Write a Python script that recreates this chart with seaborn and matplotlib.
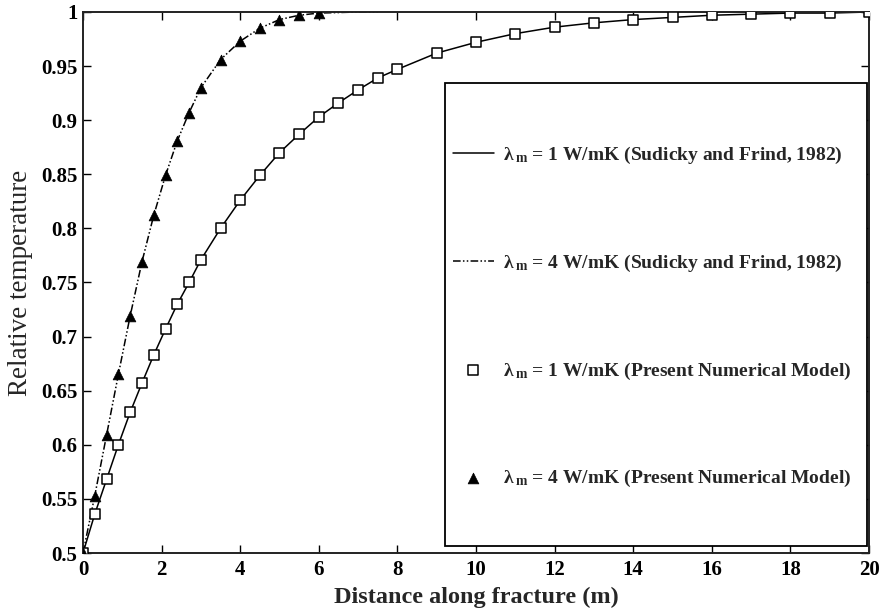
import matplotlib
matplotlib.use("Agg")
import matplotlib.pyplot as plt
import matplotlib.ticker as mticker
from matplotlib.patches import Rectangle
import seaborn as sns

# Present numerical model, lambda_m = 1 W/mK (squares)
x_num1 = [0, 0.3, 0.6, 0.9, 1.2, 1.5, 1.8, 2.1, 2.4, 2.7, 3.0, 3.5, 4.0, 4.5, 5.0,
          5.5, 6.0, 6.5, 7.0, 7.5, 8.0, 9, 10, 11, 12, 13, 14, 15, 16, 17, 18, 19, 20]
y_num1 = [0.5, 0.536, 0.568, 0.600, 0.630, 0.657, 0.683, 0.707, 0.730, 0.750, 0.771,
          0.800, 0.826, 0.849, 0.870, 0.887, 0.903, 0.916, 0.928, 0.939, 0.947,
          0.962, 0.972, 0.980, 0.986, 0.990, 0.993, 0.995, 0.997, 0.998, 0.999, 0.999, 1.0]

# Present numerical model, lambda_m = 4 W/mK (triangles)
x_num4 = [0, 0.3, 0.6, 0.9, 1.2, 1.5, 1.8, 2.1, 2.4, 2.7, 3.0, 3.5, 4.0, 4.5, 5.0, 5.5, 6.0]
y_num4 = [0.5, 0.553, 0.609, 0.665, 0.719, 0.769, 0.812, 0.849, 0.881, 0.907, 0.930,
          0.956, 0.973, 0.985, 0.993, 0.997, 0.999]

# Analytical solution (Sudicky and Frind, 1982)
x_ana1 = x_num1
y_ana1 = y_num1
x_ana4 = x_num4 + [6.5, 7.0, 7.5]
y_ana4 = y_num4 + [0.9995, 1.0, 1.0]

labels = [
    "λ$_{\\,m}$ = 1 W/mK (Sudicky and Frind, 1982)",
    "λ$_{\\,m}$ = 4 W/mK (Sudicky and Frind, 1982)",
    "λ$_{\\,m}$ = 1 W/mK (Present Numerical Model)",
    "λ$_{\\,m}$ = 4 W/mK (Present Numerical Model)",
]

sns.set_style("ticks")
plt.rcParams["font.family"] = ["Liberation Serif", "DejaVu Serif"]
plt.rcParams["font.weight"] = "bold"
plt.rcParams["mathtext.default"] = "regular"

fig = plt.figure(figsize=(8.81, 6.12), dpi=100)
ax = fig.add_axes([0.0942, 0.0964, 0.8922, 0.8840])

sns.lineplot(x=x_ana1, y=y_ana1, ax=ax, color="black", linewidth=1.1,
             label=labels[0], sort=False)
sns.lineplot(x=x_ana4, y=y_ana4, ax=ax, color="black", linewidth=1.1,
             linestyle=(0, (5, 1.5, 1, 1.5, 1, 1.5)), label=labels[1], sort=False)
sns.scatterplot(x=x_num1, y=y_num1, ax=ax, marker="s", s=42, facecolor="white",
                edgecolor="black", linewidth=1.1, label=labels[2], zorder=3)
sns.scatterplot(x=x_num4, y=y_num4, ax=ax, marker="^", s=60, color="black",
                edgecolor="black", linewidth=0.5, label=labels[3], zorder=3)

ax.set_xlim(0, 20)
ax.set_ylim(0.5, 1.0)
ax.set_xticks(range(0, 21, 2))
ax.set_yticks([0.5, 0.55, 0.6, 0.65, 0.7, 0.75, 0.8, 0.85, 0.9, 0.95, 1.0])
ax.yaxis.set_major_formatter(mticker.FormatStrFormatter("%g"))
ax.tick_params(direction="in", top=True, right=True, length=6, width=1,
               labelsize=15, colors="black")
ax.tick_params(axis="x", pad=5)
ax.tick_params(axis="y", pad=4)
for lab in ax.get_xticklabels() + ax.get_yticklabels():
    lab.set_fontweight("bold")
for sp in ax.spines.values():
    sp.set_linewidth(1.4)
    sp.set_color("#222222")

ax.set_xlabel("Distance along fracture (m)", fontsize=17.5, fontweight="bold", labelpad=5)
ax.set_ylabel("Relative temperature", fontsize=19.5, fontweight="normal", labelpad=6)

# legend box drawn separately so the vertical padding can be large
ax.add_patch(Rectangle((0.4606, 0.0129), 0.5369, 0.8559, transform=ax.transAxes,
                       facecolor="white", edgecolor="black", linewidth=1.3, zorder=4))
leg = ax.legend(loc="center left", bbox_to_anchor=(0.4707, 0.436), frameon=False,
                prop={"size": 14, "weight": "bold", "family": "Liberation Serif"},
                labelspacing=4.45, borderpad=0, handlelength=2.1, handletextpad=0.45,
                borderaxespad=0)
leg.set_zorder(5)

fig.savefig("out.png", dpi=100)
